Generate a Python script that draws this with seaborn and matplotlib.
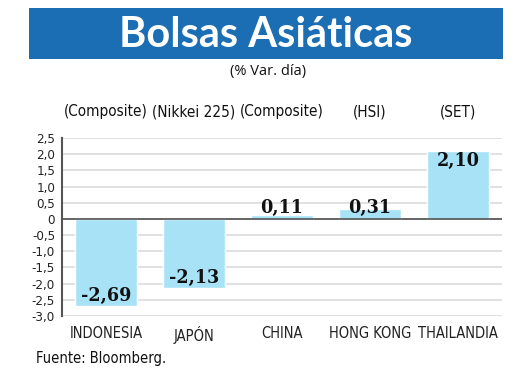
import matplotlib
matplotlib.use("Agg")
import matplotlib.pyplot as plt
import seaborn as sns
import pandas as pd
from matplotlib.patches import Rectangle

countries = ["INDONESIA", "JAPÓN", "CHINA", "HONG KONG", "THAILANDIA"]
indices = ["(Composite)", "(Nikkei 225)", "(Composite)", "(HSI)", "(SET)"]
values = [-2.69, -2.13, 0.11, 0.31, 2.10]
yticks = [2.5, 2.0, 1.5, 1.0, 0.5, 0, -0.5, -1.0, -1.5, -2.0, -2.5, -3.0]

sns.set_theme(style="white")
plt.rcParams['font.family'] = ['DejaVu Sans']
plt.rcParams['font.stretch'] = 'condensed'

df = pd.DataFrame({"country": countries, "value": values})

fig = plt.figure(figsize=(5.2, 3.9), dpi=100)
ax = fig.add_axes([62/520, 1-316/390, 440/520, 178/390])

for t in yticks:
    ax.axhline(t, color="#dcdcdc", lw=1.2, zorder=0)

sns.barplot(data=df, x="country", y="value", color="#a7e2f6", saturation=1,
            width=0.71, ax=ax, zorder=2)
ax.axhline(0, color="#444444", lw=1.1, zorder=3)

ax.set_xlim(-0.5, 4.5)
ax.set_ylim(-3.0, 2.5)
ax.set_yticks(yticks)
ax.set_yticklabels([("%.1f" % t).replace(".", ",") if t != 0 else "0" for t in yticks],
                   fontsize=9.5, color="#222222")
ax.tick_params(axis="y", length=0, pad=5)
ax.tick_params(axis="x", length=0, pad=7)
ax.set_xticks(range(len(countries)))
ax.set_xticklabels(countries, fontsize=10.5, color="#222222")
ax.set_xlabel("")
ax.set_ylabel("")
for s in ["top", "right", "bottom"]:
    ax.spines[s].set_visible(False)
ax.spines["left"].set_color("#555555")
ax.spines["left"].set_linewidth(1.5)
ax.spines["left"].set_zorder(4)
ax.set_facecolor("none")

for i, v in enumerate(values):
    if v < 0:
        yp = v + 0.31
    elif v > 0.6:
        yp = v - 0.31
    else:
        yp = 0.35
    ax.text(i, yp, ("%.2f" % v).replace(".", ","), ha="center", va="center",
            fontsize=14, fontweight="bold", color="#111111", zorder=5,
            family=["DejaVu Serif"], fontstretch="condensed")

for i, lab in enumerate(indices):
    ax.annotate(lab, xy=(i, 1), xycoords=("data", "axes fraction"),
                xytext=(0, 19), textcoords="offset points",
                ha="center", va="center", fontsize=11, color="#111111")

fig.patches.append(Rectangle((29/520, 1-59/390), 474/520, 51/390,
                             transform=fig.transFigure, facecolor="#1b6db4",
                             edgecolor="none", zorder=0))
fig.text(266/520, 1-35/390, "Bolsas Asiáticas", ha="center", va="center",
         fontsize=30, fontweight="bold", color="white", family=["Lato"],
         fontstretch="normal")
fig.text(268/520, 1-71/390, "(% Var. día)", ha="center", va="center",
         fontsize=10.5, color="#111111", family=["Open Sans"], fontstretch="normal")
fig.text(36/520, 1-358/390, "Fuente: Bloomberg.", ha="left", va="center",
         fontsize=10.5, color="#111111")

fig.savefig("out.png", dpi=100)
